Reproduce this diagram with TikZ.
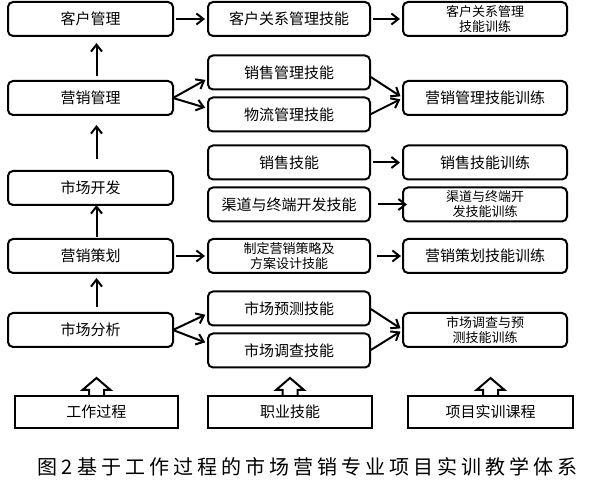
\documentclass[tikz,border=0pt]{standalone}
\usepackage{fontspec}
\newfontfamily\cjk{Noto Sans CJK SC}
\usetikzlibrary{arrows.meta,positioning,calc}
\tikzset{
  lbox/.style={draw, rounded corners=5pt, line width=2pt, minimum height=34pt, minimum width=165pt, inner sep=0pt, outer sep=0pt, align=center, font=\cjk\fontsize{15}{17}\selectfont},
  mbox/.style={lbox, minimum width=162pt},
  rbox/.style={lbox, minimum width=164pt},
  small/.style={font=\cjk\fontsize{13}{15}\selectfont},
  srcbox/.style={draw, line width=2pt, minimum height=32pt, minimum width=164pt, inner sep=0pt, outer sep=0pt, font=\cjk\fontsize{15}{17}\selectfont},
  line/.style={-{Straight Barb[length=7pt,width=11pt]}, line width=2pt, shorten <=3pt, shorten >=3pt},
  hollow/.style={line width=2pt, line join=miter},
  caption/.style={inner sep=0pt, font=\cjk\addfontfeatures{LetterSpace=20}\fontsize{20}{24}\selectfont}
}
\newcommand{\srcarrow}[1]{%
  \draw[hollow] ([xshift=-7.5pt]#1.north) -- ++(0,6) -- ++(-6.5,0) -- ([yshift=18pt]#1.north)
    -- ++(14,-12) -- ++(-6.5,0) -- ++(0,-6);}

\begin{document}
\begin{tikzpicture}[x=1pt, y=1pt]
  \useasboundingbox (0,0) rectangle (598,484);
  \node[lbox] (scfx) at (90.5,154) {市场分析};
  \node[lbox, above=40pt of scfx] (yxch) {营销策划};
  \node[lbox, above=34pt of yxch] (scfz) {市场开发};
  \node[lbox, above=56pt of scfz] (yxgl) {营销管理};
  \node[lbox, above=45pt of yxgl] (khgl) {客户管理};

  \node[mbox, right=35pt of khgl] (khjn) {客户关系管理技能};
  \node[mbox, right=35pt of yxgl, yshift=25.5pt] (xsgljn) {销售管理技能};
  \node[mbox, below=8pt of xsgljn] (wlgljn) {物流管理技能};
  \node[mbox, below=14pt of wlgljn] (xsjn) {销售技能};
  \node[mbox, below=8pt of xsjn] (qdjn) {渠道与终端开发技能};
  \node[mbox, right=35pt of yxch, small] (chjn) {制定营销策略及\\方案设计技能};
  \node[mbox, right=35pt of scfx, yshift=21.5pt] (ycjn) {市场预测技能};
  \node[mbox, below=8pt of ycjn] (dcjn) {市场调查技能};

  \node[rbox, right=33pt of khjn, small] (khxl) {客户关系管理\\技能训练};
  \node[rbox] (yxxl) at (khxl |- yxgl) {营销管理技能训练};
  \node[rbox, right=33pt of xsjn] (xsxl) {销售技能训练};
  \node[rbox, right=33pt of qdjn, small] (qdxl) {渠道与终端开\\发技能训练};
  \node[rbox, right=33pt of chjn] (chxl) {营销策划技能训练};
  \node[rbox, small] (dcxl) at (khxl |- scfx) {市场调查与预\\测技能训练};

  \node[srcbox, minimum width=163pt, below=49pt of scfx, xshift=6pt] (gzgc) {工作过程};
  \node[srcbox, right=30pt of gzgc] (zyjn) {职业技能};
  \node[srcbox, minimum width=165pt, right=36pt of zyjn] (xmsx) {项目实训课程};
  \node[caption] (cap) at (307.5,17) {图2基于工作过程的市场营销专业项目实训教学体系};

  \draw[line, shorten <=5pt, shorten >=7pt] ([xshift=6pt]yxgl.north) -- ([xshift=6pt]khgl.south);
  \draw[line, shorten <=12pt, shorten >=10pt] ([xshift=6pt]scfz.north) -- ([xshift=6pt]yxgl.south);
  \draw[line, shorten <=2pt, shorten >=0pt] ([xshift=6pt]yxch.north) -- ([xshift=6pt]scfz.south);
  \draw[line, shorten <=6pt, shorten >=5pt] ([xshift=6pt]scfx.north) -- ([xshift=6pt]yxch.south);

  \draw[line] (khgl) -- (khjn);
  \draw[line] (khjn) -- (khxl);
  \draw[line, shorten <=1pt] (yxgl.east) -- ([yshift=-6pt]xsgljn.west);
  \draw[line, shorten <=1pt] (yxgl.east) -- ([yshift=6pt]wlgljn.west);
  \draw[line, shorten <=1pt] ([yshift=-4pt]xsgljn.east) -- (yxxl.west);
  \draw[line, shorten <=1pt] (wlgljn.east) -- (yxxl.west);
  \draw[line] (xsjn) -- (xsxl);
  \draw[line, shorten <=8pt, shorten >=-4pt] (qdjn) -- (qdxl);
  \draw[line] (yxch) -- (chjn);
  \draw[line, shorten <=7pt, shorten >=2pt] (chjn) -- (chxl);
  \draw[line, shorten <=1pt] (scfx.east) -- ([yshift=-5pt]ycjn.west);
  \draw[line, shorten <=1pt] (scfx.east) -- ([yshift=7pt]dcjn.west);
  \draw[line, shorten <=1pt] (ycjn.east) -- (dcxl.west);
  \draw[line, shorten <=1pt] (dcjn.east) -- (dcxl.west);

  \srcarrow{gzgc}
  \srcarrow{zyjn}
  \srcarrow{xmsx}
\end{tikzpicture}
\end{document}
